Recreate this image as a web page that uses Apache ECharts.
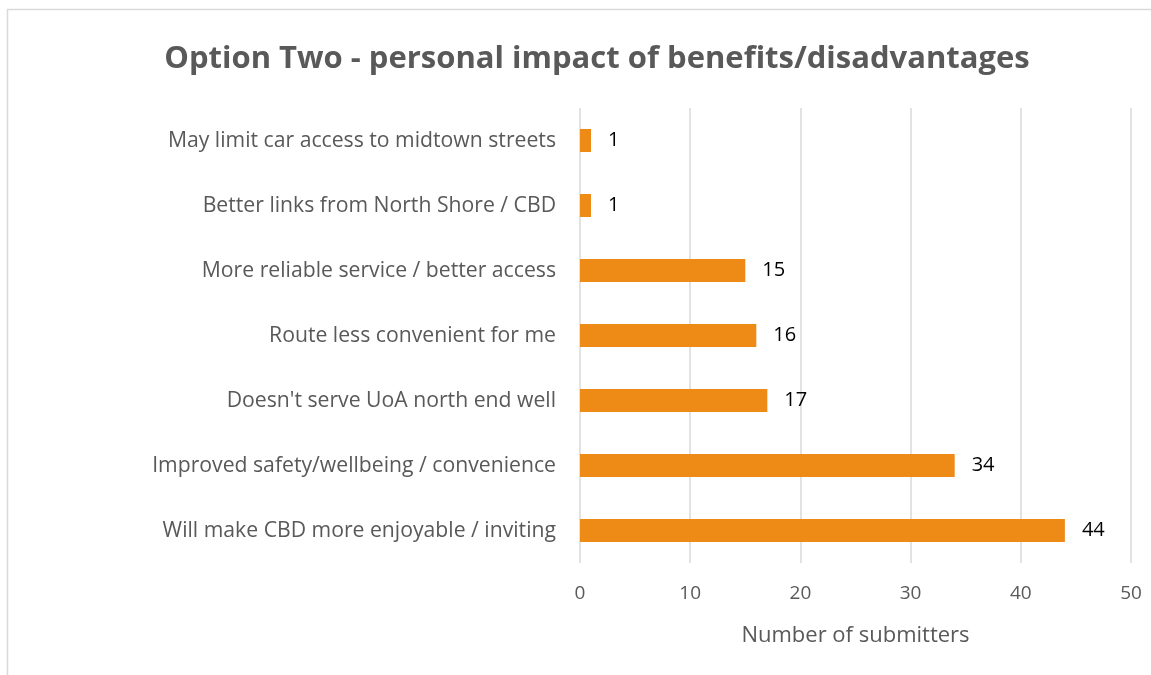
<!DOCTYPE html>
<html><head><meta charset="utf-8">
<script src="https://cdn.jsdelivr.net/npm/echarts@6/dist/echarts.min.js"></script>
<style>html,body{margin:0;padding:0;background:#fff}#c{width:1151px;height:675px}</style>
</head><body><div id="c"></div>
<script>
const categories = [
  "Will make CBD more enjoyable / inviting",
  "Improved safety/wellbeing / convenience",
  "Doesn't serve UoA north end well",
  "Route less convenient for me",
  "More reliable service / better access",
  "Better links from North Shore / CBD",
  "May limit car access to midtown streets"
];
const values = [44, 34, 17, 16, 15, 1, 1];
const xTicks = [0, 10, 20, 30, 40, 50];

const chart = echarts.init(document.getElementById('c'));
const font = "'Open Sans', 'Noto Sans', sans-serif";
chart.setOption({
  animation: false,
  title: {
    text: "Option Two - personal impact of benefits/disadvantages",
    left: 592, top: 39, textAlign: 'center',
    textStyle: { fontFamily: font, fontSize: 31, fontWeight: 'bold', color: '#595959' }
  },
  graphic: [{
    type: 'rect', shape: { x: 7.5, y: 9.5, width: 1200, height: 700 },
    style: { fill: 'none', stroke: '#d9d9d9', lineWidth: 1.5 }, silent: true
  }],
  grid: { left: 580, right: 20, top: 108, bottom: 112, containLabel: false },
  xAxis: {
    type: 'value', min: 0, max: 50, interval: 10,
    axisLine: { show: false }, axisTick: { show: false },
    splitLine: { lineStyle: { color: '#d9d9d9', width: 1.5 } },
    axisLabel: { fontFamily: font, fontSize: 19, color: '#595959', margin: 21,
      formatter: v => xTicks.includes(v) ? String(v) : '' },
    name: 'Number of submitters', nameLocation: 'middle', nameGap: 62,
    nameTextStyle: { fontFamily: font, fontSize: 22, color: '#595959' }
  },
  yAxis: {
    type: 'category', data: categories,
    axisLine: { show: false }, axisTick: { show: false },
    axisLabel: { fontFamily: font, fontSize: 21.2, color: '#595959', margin: 24 }
  },
  series: [{
    type: 'bar', data: values, barWidth: 23,
    itemStyle: { color: '#EE8A16' },
    label: { show: true, position: 'right', distance: 17, fontFamily: font, fontSize: 20, color: '#000' }
  }]
});
</script></body></html>
